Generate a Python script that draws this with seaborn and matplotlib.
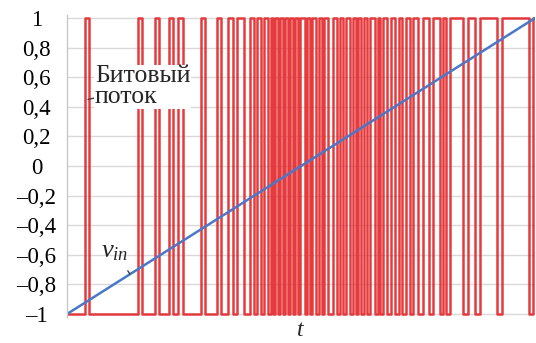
import matplotlib
matplotlib.use("Agg")
import seaborn as sns
import pandas as pd
from matplotlib import pyplot as plt

# moments (arbitrary time units) where the bit stream flips level, starting low
toggle_t = [18, 22, 71, 75, 88, 92, 102, 106, 111, 116, 134, 138, 150, 154,
            161, 166, 170, 177, 183, 187, 190, 194, 197, 201, 204, 206, 208, 211,
            213, 216, 218, 221, 223, 226, 228, 231, 233,
            238, 240, 243, 245, 249, 252, 255, 257, 261, 266, 270, 273, 276, 279,
            283, 286, 289, 291, 294, 297, 300, 303, 308, 311, 313, 316, 320, 324,
            328, 332, 335, 339, 343, 346, 351, 356, 362, 366, 373, 376, 379, 383,
            396, 401, 408, 413, 430, 435, 462, 466]
t_end = 468

# input ramp
vin_t = [0, 468]
vin_v = [-1, 1]

ytick_vals = [-1, -0.8, -0.6, -0.4, -0.2, 0, 0.2, 0.4, 0.6, 0.8, 1]
ytick_labels = ["–1", "–0,8", "–0,6", "–0,4", "–0,2", "0",
                "0,2", "0,4", "0,6", "0,8", "1"]

bit_t = [0] + toggle_t + [t_end]
bit_v = [-1]
lvl = -1
for _ in toggle_t:
    lvl = -lvl
    bit_v.append(lvl)
bit_v.append(lvl)
bits = pd.DataFrame(dict(t=bit_t, v=bit_v))
ramp = pd.DataFrame(dict(t=vin_t, v=vin_v))

sns.set_theme(style="white")
plt.rcParams['font.family'] = ['Liberation Serif', 'DejaVu Serif']
plt.rcParams['mathtext.fontset'] = 'custom'
plt.rcParams['mathtext.it'] = 'Liberation Serif:italic'
plt.rcParams['mathtext.rm'] = 'Liberation Serif'

fig = plt.figure(figsize=(5.36, 3.43), dpi=100)
ax = fig.add_axes([0.125, 0.0758, 0.873, 0.880])

sns.lineplot(data=bits, x='t', y='v', estimator=None, sort=False,
             drawstyle='steps-post', color='#e3262a', lw=1.8, alpha=0.9, ax=ax)
sns.lineplot(data=ramp, x='t', y='v', estimator=None, sort=False,
             color='#4a78c8', lw=1.8, ax=ax)

ax.set_xlim(0, t_end)
ax.set_ylim(-1.02, 1.02)
ax.set_xticks([])
ax.set_yticks(ytick_vals)
ax.set_yticklabels(ytick_labels, ha='center', fontsize=16.5, color='black')
ax.tick_params(axis='y', length=0, pad=22)
ax.yaxis.grid(True, color='#d9d9d9', lw=1)
ax.set_axisbelow(True)
for side in ['top', 'right', 'bottom']:
    ax.spines[side].set_visible(False)
ax.spines['left'].set_color('#c8c8c8')
ax.spines['left'].set_linewidth(1)

ax.set_ylabel('')
ax.set_xlabel('t', fontsize=17, style='italic')
ax.xaxis.label.set_va('center')
ax.xaxis.set_label_coords((300 - 67) / 468, -0.045)

ax.annotate('Битовый\nпоток', xy=(21, 0.45), xytext=(28, 0.68),
            fontsize=18.5, ha='left', va='top', linespacing=0.9,
            bbox=dict(facecolor='white', edgecolor='none', pad=0.5),
            arrowprops=dict(arrowstyle='-', color='#404040', lw=1,
                            shrinkA=0, shrinkB=0))
ax.annotate('$v_{in}$', xy=(63, -0.73), xytext=(48, -0.58),
            fontsize=19, ha='center', va='center',
            arrowprops=dict(arrowstyle='-', color='#404040', lw=1,
                            shrinkA=4, shrinkB=0))

fig.savefig('out.png', dpi=100)
